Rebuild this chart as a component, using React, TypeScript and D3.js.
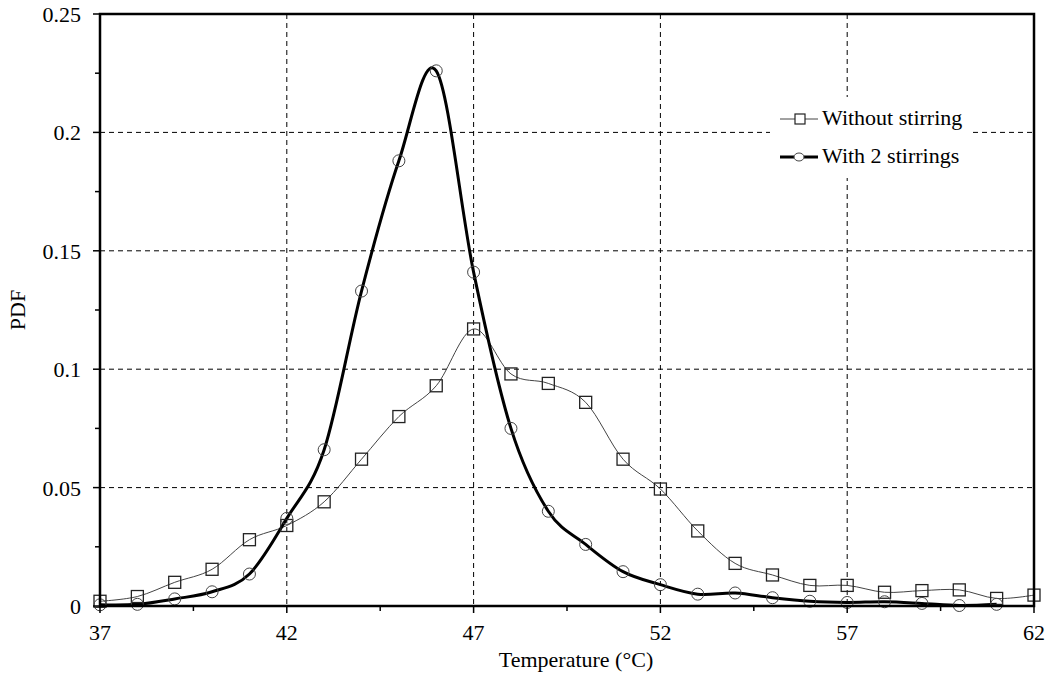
import React from "react";
import * as d3 from "d3";

const temps = [37,38,39,40,41,42,43,44,45,46,47,48,49,50,51,52,53,54,55,56,57,58,59,60,61,62];
const withoutStirring = [0.002,0.004,0.010,0.0155,0.028,0.034,0.044,0.062,0.080,0.093,0.117,0.098,0.094,0.086,0.062,0.0494,0.0317,0.018,0.0131,0.0087,0.0087,0.0058,0.0065,0.0068,0.0032,0.0046];
const tempsStir = [37,38,39,40,41,42,43,44,45,46,47,48,49,50,51,52,53,54,55,56,57,58,59,60,61];
const withStirrings = [0.0005,0.0007,0.003,0.006,0.0135,0.037,0.066,0.133,0.188,0.226,0.141,0.075,0.040,0.026,0.0145,0.009,0.005,0.0055,0.0035,0.002,0.0015,0.0018,0.0011,0.0002,0.0007];
const xTicks = [37,42,47,52,57,62];
const xMinor = [39.5,44.5,49.5,54.5,59.5];
const yTicks = [0,0.05,0.1,0.15,0.2,0.25];
const yTickLabels = ["0","0.05","0.1","0.15","0.2","0.25"];
const yMinor = [0.025,0.075,0.125,0.175,0.225];
const legendLabels = ["Without stirring","With 2 stirrings"];

const L = 100, R = 1034, T = 14, B = 606;
const font = "'Liberation Serif', 'Times New Roman', serif";

export default function App() {
  const x = d3.scaleLinear().domain([37, 62]).range([L, R]);
  const y = d3.scaleLinear().domain([0, 0.25]).range([B, T]);
  const line = d3.line<[number, number]>().x(d => x(d[0])).y(d => Math.min(B, y(d[1]))).curve(d3.curveCardinal.tension(0));
  const d1 = line(temps.map((t, i) => [t, withoutStirring[i]]))!;
  const d2 = line(tempsStir.map((t, i) => [t, withStirrings[i]]))!;
  return (
    <svg width={1048} height={676} style={{ position: "absolute", left: 0, top: 0, background: "#fff" }}>
      <defs>
        <clipPath id="plot"><rect x={L} y={T} width={R - L} height={B - T} /></clipPath>
      </defs>
      <rect x={0} y={0} width={1048} height={676} fill="#fff" />
      {xTicks.filter(t => t > 37 && t < 62).map(t => (
        <line key={"gx" + t} x1={x(t)} x2={x(t)} y1={T} y2={B} stroke="#000" strokeWidth={1} strokeDasharray="5,4" />
      ))}
      {yTicks.filter(t => t > 0 && t < 0.25).map(t => (
        <line key={"gy" + t} x1={L} x2={R} y1={y(t)} y2={y(t)} stroke="#000" strokeWidth={1} strokeDasharray="5,4" />
      ))}
      <rect x={770} y={97} width={202} height={81} fill="#fff" />
      <g clipPath="url(#plot)">
        <path d={d1} fill="none" stroke="#444" strokeWidth={1} />
        <path d={d2} fill="none" stroke="#000" strokeWidth={3} />
      </g>
      {temps.map((t, i) => (
        <rect key={"s" + t} x={x(t) - 6} y={y(withoutStirring[i]) - 6} width={12} height={12} fill="none" stroke="#222" strokeWidth={1.3} />
      ))}
      {tempsStir.map((t, i) => (
        <circle key={"c" + t} cx={x(t)} cy={y(withStirrings[i])} r={6} fill="none" stroke="#444" strokeWidth={1} />
      ))}
      <rect x={L} y={T} width={R - L} height={B - T} fill="none" stroke="#000" strokeWidth={2.5} />
      {xTicks.map(t => (
        <line key={"tx" + t} x1={x(t)} x2={x(t)} y1={B} y2={B + 7} stroke="#000" strokeWidth={1.5} />
      ))}
      {xMinor.map(t => (
        <line key={"mx" + t} x1={x(t)} x2={x(t)} y1={B} y2={B + 5} stroke="#000" strokeWidth={1.5} />
      ))}
      {yTicks.map(t => (
        <line key={"ty" + t} x1={L - 7} x2={L} y1={y(t)} y2={y(t)} stroke="#000" strokeWidth={1.5} />
      ))}
      {yMinor.map(t => (
        <line key={"my" + t} x1={L - 5} x2={L} y1={y(t)} y2={y(t)} stroke="#000" strokeWidth={1.5} />
      ))}
      {xTicks.map(t => (
        <text key={"lx" + t} x={x(t)} y={640} textAnchor="middle" fontFamily={font} fontSize={22} fill="#000">{t}</text>
      ))}
      {yTicks.map((t, i) => (
        <text key={"ly" + t} x={81} y={y(t) + 8} textAnchor="end" fontFamily={font} fontSize={22} fill="#000">{yTickLabels[i]}</text>
      ))}
      <text x={576} y={667} textAnchor="middle" fontFamily={font} fontSize={22} fill="#000">Temperature (°C)</text>
      <text transform={`translate(25, 310) rotate(-90)`} textAnchor="middle" fontFamily={font} fontSize={22} fill="#000">PDF</text>
      <line x1={780} x2={818} y1={119} y2={119} stroke="#444" strokeWidth={1} />
      <rect x={795} y={114} width={10} height={10} fill="#fff" stroke="#222" strokeWidth={1.2} />
      <text x={822} y={125} fontFamily={font} fontSize={22} fill="#000">{legendLabels[0]}</text>
      <line x1={780} x2={818} y1={157} y2={157} stroke="#000" strokeWidth={3} />
      <ellipse cx={799} cy={157} rx={5} ry={4} fill="#fff" stroke="#444" strokeWidth={1} />
      <text x={822} y={163} fontFamily={font} fontSize={22} fill="#000">{legendLabels[1]}</text>
    </svg>
  );
}
